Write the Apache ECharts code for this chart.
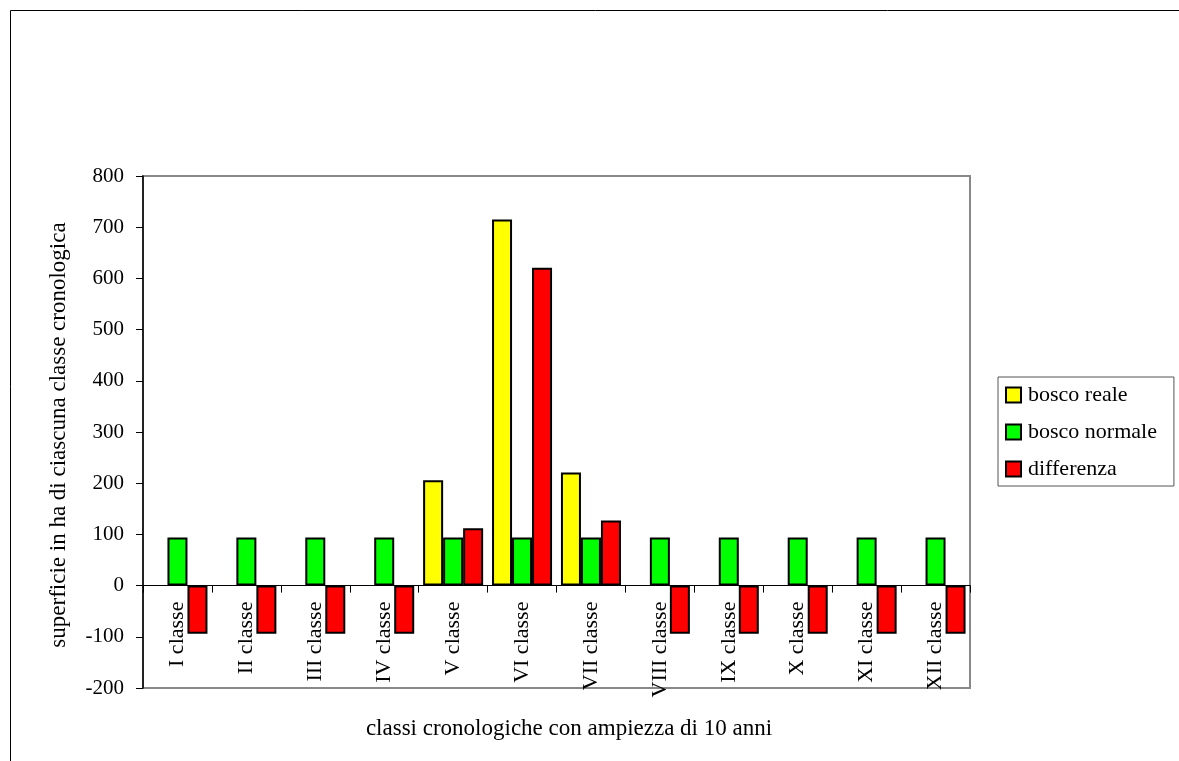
<!DOCTYPE html>
<html><head><meta charset="utf-8">
<script src="https://cdn.jsdelivr.net/npm/echarts@6/dist/echarts.min.js"></script>
<style>html,body{margin:0;padding:0;background:#fff}#c{width:1179px;height:761px}</style>
</head><body><div id="c"></div>
<script>
const categories = ['I classe','II classe','III classe','IV classe','V classe','VI classe','VII classe','VIII classe','IX classe','X classe','XI classe','XII classe'];
const boscoReale = [null,null,null,null,206,715,221,null,null,null,null,null];
const boscoNormale = [94,94,94,94,94,94,94,94,94,94,94,94];
const differenza = [-94,-94,-94,-94,112,621,127,-94,-94,-94,-94,-94];
const yTicks = {min:-200,max:800,interval:100};
const yTitle = 'superficie in ha di ciascuna classe cronologica';
const xTitle = 'classi cronologiche con ampiezza di 10 anni';

const F = '"Liberation Serif","Times New Roman",serif';
const chart = echarts.init(document.getElementById('c'));
const barStyle = (c)=>({color:c,borderColor:'#000',borderWidth:2});
const zeroOffset = -(688-176)*(0-yTicks.min)/(yTicks.max-yTicks.min);
chart.setOption({
  animation:false,
  textStyle:{fontFamily:F},
  grid:{left:143,top:176,right:209,bottom:73,show:true,borderColor:'#888',borderWidth:2,containLabel:false,outerBoundsMode:'none'},
  graphic:[
    {type:'rect',shape:{x:10.5,y:10.5,width:1300,height:900},style:{fill:'none',stroke:'#000',lineWidth:1},silent:true},
    {type:'text',x:569,y:729,style:{text:xTitle,font:'23px '+F,fill:'#000',align:'center',verticalAlign:'middle'},silent:true},
    {type:'text',x:59,y:435,rotation:Math.PI/2,style:{text:yTitle,font:'23px '+F,fill:'#000',align:'center',verticalAlign:'middle'},silent:true}
  ],
  legend:{orient:'vertical',left:998,top:377,padding:[7,17,6,7],itemGap:15,itemWidth:15,itemHeight:15,icon:'rect',
    borderColor:'#555',borderWidth:1,textStyle:{fontFamily:F,fontSize:22,color:'#000',padding:[0,0,0,2]},
    itemStyle:{borderColor:'#000',borderWidth:2},
    data:['bosco reale','bosco normale','differenza']},
  xAxis:{type:'category',data:categories,offset:zeroOffset,
    axisLine:{onZero:false,lineStyle:{color:'#000',width:1}},
    axisTick:{show:true,length:7,lineStyle:{color:'#000'}},
    axisLabel:{rotate:90,fontFamily:F,fontSize:22,color:'#000',margin:16,interval:0}},
  yAxis:{type:'value',min:yTicks.min,max:yTicks.max,interval:yTicks.interval,
    axisLine:{show:true,lineStyle:{color:'#000',width:1.5}},
    axisTick:{show:true,length:7,lineStyle:{color:'#000'}},
    splitLine:{show:false},
    axisLabel:{fontFamily:F,fontSize:21,color:'#000',margin:19}},
  series:[
    {name:'bosco reale',type:'bar',data:boscoReale,barWidth:20,barGap:'0%',itemStyle:barStyle('#ffff00')},
    {name:'bosco normale',type:'bar',data:boscoNormale,barWidth:20,barGap:'0%',itemStyle:barStyle('#00ff00')},
    {name:'differenza',type:'bar',data:differenza,barWidth:20,barGap:'0%',itemStyle:barStyle('#ff0000')}
  ]
});
</script></body></html>
